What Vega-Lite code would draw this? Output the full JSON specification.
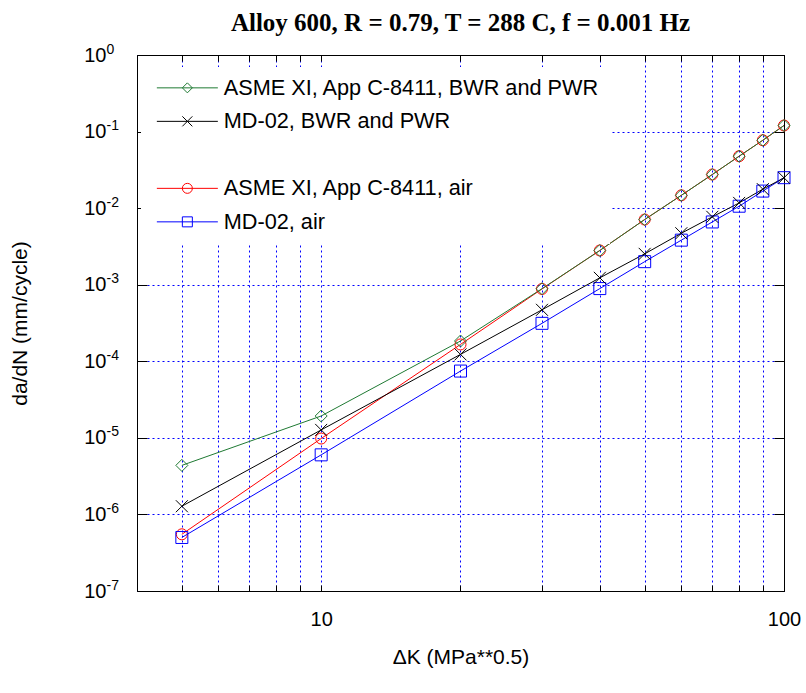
{
  "$schema": "https://vega.github.io/schema/vega-lite/v6.json",
  "width": 647,
  "height": 536,
  "autosize": {"type": "none"},
  "padding": {"left": 137, "top": 55, "right": 22, "bottom": 102},
  "background": "white",
  "title": {
    "text": "Alloy 600, R = 0.79, T = 288 C, f = 0.001 Hz",
    "font": "Liberation Serif",
    "fontSize": 25,
    "fontWeight": "bold",
    "color": "black",
    "anchor": "middle",
    "offset": 6
  },
  "config": {
    "view": {"stroke": "black", "strokeWidth": 1},
    "axis": {
      "labelFont": "Liberation Sans",
      "titleFont": "Liberation Sans",
      "labelColor": "black",
      "titleColor": "black",
      "tickColor": "black",
      "domainColor": "black",
      "titleFontWeight": "normal",
      "gridColor": "#0000ff",
      "gridDash": [2, 3],
      "gridOpacity": 1,
      "gridWidth": 1,
      "labelFontSize": 20,
      "titleFontSize": 21
    }
  },
  "data": {
    "values": [
      {"series": "ASME XI, App C-8411, BWR and PWR", "dk": 5, "rate": 4.37e-6},
      {"series": "ASME XI, App C-8411, BWR and PWR", "dk": 10, "rate": 1.93e-5},
      {"series": "ASME XI, App C-8411, BWR and PWR", "dk": 20, "rate": 1.84e-4},
      {"series": "ASME XI, App C-8411, BWR and PWR", "dk": 30, "rate": 8.87e-4},
      {"series": "ASME XI, App C-8411, BWR and PWR", "dk": 40, "rate": 2.8e-3},
      {"series": "ASME XI, App C-8411, BWR and PWR", "dk": 50, "rate": 7.1e-3},
      {"series": "ASME XI, App C-8411, BWR and PWR", "dk": 60, "rate": 1.47e-2},
      {"series": "ASME XI, App C-8411, BWR and PWR", "dk": 70, "rate": 2.75e-2},
      {"series": "ASME XI, App C-8411, BWR and PWR", "dk": 80, "rate": 4.77e-2},
      {"series": "ASME XI, App C-8411, BWR and PWR", "dk": 90, "rate": 7.7e-2},
      {"series": "ASME XI, App C-8411, BWR and PWR", "dk": 100, "rate": 0.12},
      {"series": "MD-02, BWR and PWR", "dk": 5, "rate": 1.28e-6},
      {"series": "MD-02, BWR and PWR", "dk": 10, "rate": 1.27e-5},
      {"series": "MD-02, BWR and PWR", "dk": 20, "rate": 1.23e-4},
      {"series": "MD-02, BWR and PWR", "dk": 30, "rate": 4.7e-4},
      {"series": "MD-02, BWR and PWR", "dk": 40, "rate": 1.23e-3},
      {"series": "MD-02, BWR and PWR", "dk": 50, "rate": 2.53e-3},
      {"series": "MD-02, BWR and PWR", "dk": 60, "rate": 4.7e-3},
      {"series": "MD-02, BWR and PWR", "dk": 70, "rate": 7.7e-3},
      {"series": "MD-02, BWR and PWR", "dk": 80, "rate": 1.17e-2},
      {"series": "MD-02, BWR and PWR", "dk": 90, "rate": 1.77e-2},
      {"series": "MD-02, BWR and PWR", "dk": 100, "rate": 2.49e-2},
      {"series": "ASME XI, App C-8411, air", "dk": 5, "rate": 5.5e-7},
      {"series": "ASME XI, App C-8411, air", "dk": 10, "rate": 9.8e-6},
      {"series": "ASME XI, App C-8411, air", "dk": 20, "rate": 1.66e-4},
      {"series": "ASME XI, App C-8411, air", "dk": 30, "rate": 8.8e-4},
      {"series": "ASME XI, App C-8411, air", "dk": 40, "rate": 2.8e-3},
      {"series": "ASME XI, App C-8411, air", "dk": 50, "rate": 7.1e-3},
      {"series": "ASME XI, App C-8411, air", "dk": 60, "rate": 1.47e-2},
      {"series": "ASME XI, App C-8411, air", "dk": 70, "rate": 2.75e-2},
      {"series": "ASME XI, App C-8411, air", "dk": 80, "rate": 4.77e-2},
      {"series": "ASME XI, App C-8411, air", "dk": 90, "rate": 7.7e-2},
      {"series": "ASME XI, App C-8411, air", "dk": 100, "rate": 0.12},
      {"series": "MD-02, air", "dk": 5, "rate": 5.0e-7},
      {"series": "MD-02, air", "dk": 10, "rate": 6.0e-6},
      {"series": "MD-02, air", "dk": 20, "rate": 7.45e-5},
      {"series": "MD-02, air", "dk": 30, "rate": 3.13e-4},
      {"series": "MD-02, air", "dk": 40, "rate": 8.9e-4},
      {"series": "MD-02, air", "dk": 50, "rate": 2.0e-3},
      {"series": "MD-02, air", "dk": 60, "rate": 3.82e-3},
      {"series": "MD-02, air", "dk": 70, "rate": 6.6e-3},
      {"series": "MD-02, air", "dk": 80, "rate": 1.06e-2},
      {"series": "MD-02, air", "dk": 90, "rate": 1.67e-2},
      {"series": "MD-02, air", "dk": 100, "rate": 2.5e-2}
    ]
  },
  "resolve": {
    "axis": {"x": "independent", "y": "independent"},
    "legend": {"color": "independent", "shape": "independent"}
  },
  "layer": [
    {
      "transform": [{"filter": "datum.series == 'ASME XI, App C-8411, air' || datum.series == 'MD-02, air'"}],
      "mark": {"type": "line", "strokeWidth": 1},
      "encoding": {
        "x": {
          "field": "dk", "type": "quantitative",
          "scale": {"type": "log", "domain": [4, 100], "nice": false},
          "axis": {
            "orient": "bottom",
            "title": "ΔK (MPa**0.5)",
            "values": [5, 6, 7, 8, 9, 10, 20, 30, 40, 50, 60, 70, 80, 90, 100],
            "labelExpr": "datum.value == 10 ? '10' : datum.value == 100 ? '100' : ''",
            "grid": true,
            "tickSize": -6,
            "labelPadding": 24,
            "titlePadding": 17,
            "labelFlush": false,
            "labelOverlap": false
          }
        },
        "y": {
          "field": "rate", "type": "quantitative",
          "scale": {"type": "log", "domain": [1e-7, 1], "nice": false},
          "axis": {
            "orient": "left",
            "title": "da/dN (mm/cycle)",
            "values": [1e-7, 1e-6, 1e-5, 1e-4, 1e-3, 1e-2, 1e-1, 1],
            "labelExpr": "'10'",
            "grid": true,
            "tickSize": -10,
            "labelPadding": 41,
            "titlePadding": 53,
            "labelFlush": false,
            "labelOverlap": false,
            "encode": {"labels": {"update": {"dx": {"signal": "datum.value >= 1 ? 6.7 : 0"}}}}
          }
        },
        "color": {
          "field": "series", "type": "nominal",
          "scale": {
            "domain": ["ASME XI, App C-8411, BWR and PWR", "MD-02, BWR and PWR", " ", "ASME XI, App C-8411, air", "MD-02, air"],
            "range": ["#1f7a33", "#000000", "transparent", "#ff0000", "#0000ff"]
          },
          "legend": null
        }
      }
    },
    {
      "transform": [{"filter": "datum.series == 'ASME XI, App C-8411, BWR and PWR' || datum.series == 'MD-02, BWR and PWR'"}],
      "mark": {"type": "line", "strokeWidth": 1},
      "encoding": {
        "x": {"field": "dk", "type": "quantitative", "axis": null},
        "y": {"field": "rate", "type": "quantitative", "axis": null},
        "color": {"field": "series", "type": "nominal", "legend": null}
      }
    },
    {
      "transform": [{"filter": "datum.series == 'ASME XI, App C-8411, air'"}],
      "mark": {"type": "point", "shape": "circle", "filled": false, "size": 121, "strokeWidth": 1, "opacity": 1},
      "encoding": {
        "x": {"field": "dk", "type": "quantitative", "axis": null},
        "y": {"field": "rate", "type": "quantitative", "axis": null},
        "color": {"field": "series", "type": "nominal", "legend": null}
      }
    },
    {
      "transform": [{"filter": "datum.series == 'MD-02, air'"}],
      "mark": {"type": "point", "shape": "square", "filled": false, "size": 144, "strokeWidth": 1, "opacity": 1},
      "encoding": {
        "x": {"field": "dk", "type": "quantitative", "axis": null},
        "y": {"field": "rate", "type": "quantitative", "axis": null},
        "color": {"field": "series", "type": "nominal", "legend": null}
      }
    },
    {
      "transform": [{"filter": "datum.series == 'ASME XI, App C-8411, BWR and PWR'"}],
      "mark": {"type": "point", "shape": "M-1,0L0,-1L1,0L0,1Z", "filled": false, "size": 144, "strokeWidth": 1, "opacity": 1},
      "encoding": {
        "x": {"field": "dk", "type": "quantitative", "axis": null},
        "y": {"field": "rate", "type": "quantitative", "axis": null},
        "color": {"field": "series", "type": "nominal", "legend": null}
      }
    },
    {
      "transform": [{"filter": "datum.series == 'MD-02, BWR and PWR'"}],
      "mark": {"type": "point", "shape": "M-1,-1L1,1M-1,1L1,-1", "filled": false, "size": 144, "strokeWidth": 1, "opacity": 1},
      "encoding": {
        "x": {"field": "dk", "type": "quantitative", "axis": null},
        "y": {"field": "rate", "type": "quantitative", "axis": null},
        "color": {"field": "series", "type": "nominal", "legend": null}
      }
    },
    {
      "transform": [{"filter": "false"}],
      "mark": {"type": "point", "filled": false, "opacity": 1},
      "encoding": {
        "x": {"field": "dk", "type": "quantitative", "axis": null},
        "y": {
          "field": "rate", "type": "quantitative",
          "axis": {
            "orient": "left",
            "title": null,
            "values": [1e-7, 1e-6, 1e-5, 1e-4, 1e-3, 1e-2, 1e-1, 1],
            "labelExpr": "datum.value >= 1 ? '0' : '-' + round(-log(datum.value)/LN10)",
            "labelFontSize": 14,
            "labelAlign": "left",
            "labelBaseline": "middle",
            "ticks": false,
            "domain": false,
            "grid": false,
            "labelPadding": 31,
            "labelOffset": -6,
            "labelFlush": false,
            "labelOverlap": false,
            "encode": {"labels": {"update": {"dx": {"signal": "datum.value >= 1 ? 6.7 : 0"}}}}
          }
        }
      }
    },
    {
      "transform": [{"filter": "false"}],
      "mark": {"type": "point", "filled": false, "opacity": 1},
      "encoding": {
        "x": {
          "field": "dk", "type": "quantitative",
          "axis": {
            "orient": "top", "title": null, "labels": false, "grid": false,
            "values": [5, 6, 7, 8, 9, 10, 20, 30, 40, 50, 60, 70, 80, 90, 100],
            "tickSize": -6
          }
        },
        "y": {
          "field": "rate", "type": "quantitative",
          "axis": {
            "orient": "right", "title": null, "labels": false, "grid": false,
            "values": [1e-7, 1e-6, 1e-5, 1e-4, 1e-3, 1e-2, 1e-1, 1],
            "tickSize": -10
          }
        },
        "color": {
          "field": "series", "type": "nominal",
          "legend": {
            "title": null,
            "orient": "none",
            "legendX": 4,
            "legendY": 12,
            "padding": 10,
            "fillColor": "white",
            "strokeColor": null,
            "symbolSize": 100,
            "symbolStrokeWidth": 1,
            "symbolOpacity": 1,
            "labelFont": "Liberation Sans",
            "labelFontSize": 21.7,
            "labelLimit": 0,
            "labelOffset": 51,
            "rowPadding": 10.5,
            "encode": {
              "labels": {"update": {"fill": {"signal": "scale('color', datum.value)"}}}
            }
          }
        },
        "shape": {
          "field": "series", "type": "nominal",
          "scale": {
            "domain": ["ASME XI, App C-8411, BWR and PWR", "MD-02, BWR and PWR", " ", "ASME XI, App C-8411, air", "MD-02, air"],
            "range": [
              "M-1,0H11.2M4.1,0L5.1,-1L6.1,0L5.1,1Z",
              "M-1,0H11.2M4.1,-1L6.1,1M4.1,1L6.1,-1",
              "M0,0L0,0",
              "M-1,0H11.2M4.1,0A1,1,0,1,1,6.1,0A1,1,0,1,1,4.1,0",
              "M-1,0H11.2M4.1,-1H6.1V1H4.1Z"
            ]
          },
          "legend": {
            "title": null,
            "orient": "none",
            "legendX": 4,
            "legendY": 12,
            "padding": 10,
            "fillColor": "white",
            "strokeColor": null,
            "symbolSize": 100,
            "symbolStrokeWidth": 1,
            "symbolOpacity": 1,
            "labelFont": "Liberation Sans",
            "labelFontSize": 21.7,
            "labelLimit": 0,
            "labelOffset": 51,
            "rowPadding": 10.5,
            "encode": {
              "labels": {"update": {"fill": {"signal": "scale('color', datum.value)"}}}
            }
          }
        }
      }
    }
  ]
}
